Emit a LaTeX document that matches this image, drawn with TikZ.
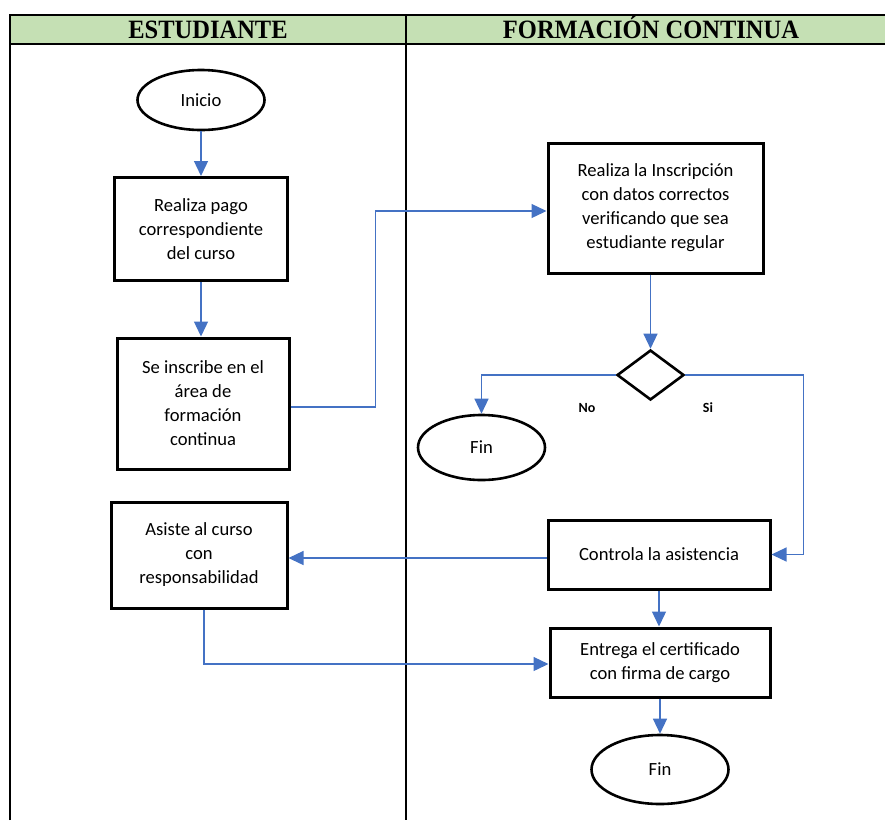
\documentclass[tikz,border=0pt]{standalone}
\usepackage{fontspec}
\setmainfont{Carlito}
\newfontfamily\headfont{Liberation Serif}
\usetikzlibrary{arrows.meta,shapes.geometric}
\definecolor{headgreen}{HTML}{C5E0B4}
\definecolor{flowblue}{HTML}{4472C4}
\tikzset{
  every node/.style={font=\fontsize{18.6}{24}\selectfont},
  procbox/.style={draw=black,line width=3pt,rectangle,align=center,inner sep=0pt},
  endcap/.style={draw=black,line width=2.6pt,ellipse,inner sep=0pt},
  decide/.style={draw=black,line width=2.6pt,diamond,inner sep=0pt},
  flow/.style={draw=flowblue,line width=1.3pt,-{Triangle[width=14pt,length=15pt]}},
  lane/.style={draw=black,line width=1.6pt},
  headtxt/.style={anchor=base,inner sep=0pt,font=\headfont\bfseries\fontsize{24.5}{27}\selectfont},
  branch/.style={font=\bfseries\fontsize{14}{16}\selectfont}
}
\begin{document}
\begin{tikzpicture}[x=1pt,y=-1pt]
\useasboundingbox (0,0) rectangle (885,820);
% swimlane table
\fill[headgreen] (10,15) rectangle (885,44);
\draw[lane] (10,820) -- (10,15) -- (885,15);
\draw[lane] (10,44) -- (885,44);
\draw[lane] (406,15) -- (406,820);
\node[headtxt] (h1) at (208,38) {\scalebox{1}[1.08]{ESTUDIANTE}};
\node[headtxt] (h2) at (651,38) {\scalebox{1}[1.08]{FORMACIÓN CONTINUA}};

% student lane
\node[endcap,minimum width=127pt,minimum height=60pt] (ini) at (201,100) {Inicio};
\node[procbox,minimum width=173pt,minimum height=103pt] (pago) at (201,229) {Realiza pago\\correspondiente\\del curso};
\node[procbox,minimum width=172pt,minimum height=131pt] (insc) at (203,403.5) {Se inscribe en el\\área de\\formación\\continua};
\node[procbox,minimum width=176pt,minimum height=106pt] (asis) at (199,555) {Asiste al curso\\con\\responsabilidad};

% continuing-education lane
\node[procbox,minimum width=215pt,minimum height=130pt] (reg) at (655.5,208) {Realiza la Inscripción\\con datos correctos\\verificando que sea\\estudiante regular};
\node[decide,minimum width=67pt,minimum height=50pt] (dec) at (650.5,375) {};
\node[endcap,minimum width=127pt,minimum height=65pt] (fin1) at (481.5,447.5) {Fin};
\node[branch] (no) at (587,408) {No};
\node[branch] (si) at (708,408) {Si};
\node[procbox,minimum width=222pt,minimum height=69pt] (ctrl) at (659,554.5) {Controla la asistencia};
\node[procbox,minimum width=220pt,minimum height=69pt] (cert) at (660,662.5) {Entrega el certificado\\con firma de cargo};
\node[endcap,minimum width=137pt,minimum height=69pt] (fin2) at (660,769.5) {Fin};

% connectors
\draw[flow] (ini.south) -- (pago.north);
\draw[flow] (pago.south) -- (pago.south |- insc.north);
\draw[flow] ([yshift=-3.5pt]insc.east) -- ++(85,0) |- ([yshift=-3pt]reg.west);
\draw[flow] (reg.south -| dec.north) -- (dec.north);
\draw[flow] (dec.west) -| (fin1.north);
\draw[flow] (dec.east) -- ++(118,0) |- (ctrl.east);
\draw[flow] ([yshift=-3.5pt]ctrl.west) coordinate (cw) -- (asis.east |- cw);
\draw[flow] ([xshift=5pt]asis.south) |- ([yshift=-1.5pt]cert.west);
\draw[flow] (ctrl.south) -- (ctrl.south |- cert.north);
\draw[flow] (cert.south) -- (fin2.north);
\end{tikzpicture}
\end{document}
